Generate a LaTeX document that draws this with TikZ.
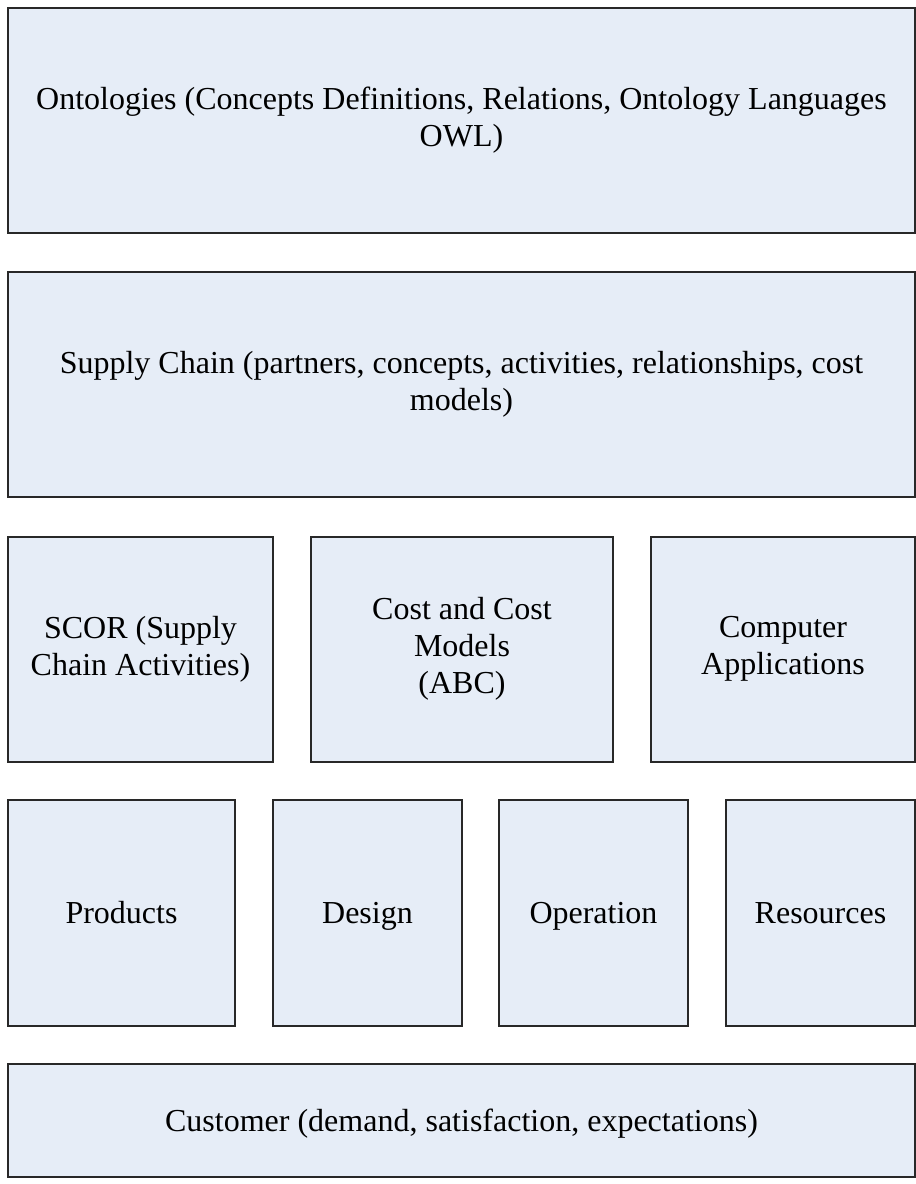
\documentclass[tikz,border=0pt]{standalone}
\usepackage{fontspec}
\setmainfont{Liberation Serif}
\definecolor{layerfill}{RGB}{230,237,247}
\definecolor{layerline}{RGB}{40,40,40}
\begin{document}
\begin{tikzpicture}[
              x = 1pt, y = -1pt,
              layer/.style = {draw = layerline, fill = layerfill, line width = 1.1pt,
                              inner sep = 0pt, outer sep = 0pt, align = center,
                              font = \fontsize{32}{37}\selectfont,
                              execute at begin node = \rule{0pt}{29pt},
                              execute at end node = \rule[-8pt]{0pt}{8pt}},
              wide/.style = {layer, minimum width = 907pt, minimum height = 225pt},
              mid/.style = {layer, minimum height = 225pt},
              small/.style = {layer, minimum height = 226pt}
            ]
            \useasboundingbox (0, 0) rectangle (916, 1184);
            % top layers
            \node[wide] (onto)   at (461.5, 120.5) {Ontologies (Concepts Definitions, Relations, Ontology Languages\\OWL)};
            \node[wide] (supply) at (461.5, 384.5) {Supply Chain (partners, concepts, activities, relationships, cost\\models)};
            % middle layer
            \node[mid, minimum width = 265pt] (scor) at (140.5, 649.5) {SCOR (Supply\\Chain Activities)};
            \node[mid, minimum width = 302pt] (cost) at (462,   649.5) {Cost and Cost\\Models\\(ABC)};
            \node[mid, minimum width = 264pt] (apps) at (783,   649.5) {Computer\\Applications};
            % lower layer
            \node[small, minimum width = 227pt] (products)  at (121.5, 913) {Products};
            \node[small, minimum width = 189pt] (design)    at (367.5, 913) {Design};
            \node[small, minimum width = 189pt] (operation) at (593.5, 913) {Operation};
            \node[small, minimum width = 189pt] (resources) at (820.5, 913) {Resources};
            % bottom layer
            \node[layer, minimum width = 907pt, minimum height = 113pt] (customer) at (461.5, 1120.5) {Customer (demand, satisfaction, expectations)};
          \end{tikzpicture}
\end{document}
